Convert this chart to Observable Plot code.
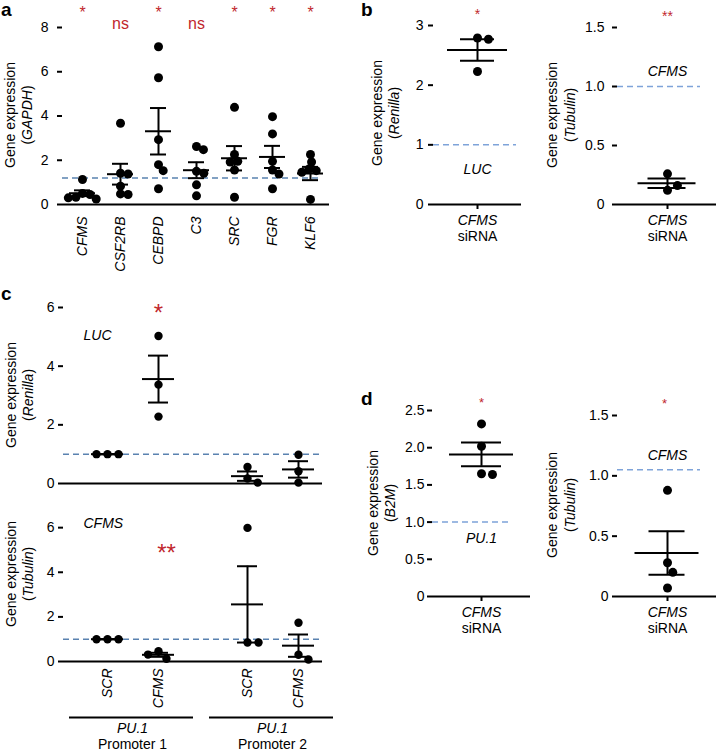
<!DOCTYPE html>
<html><head><meta charset="utf-8">
<script src="https://cdn.jsdelivr.net/npm/d3@7"></script>
<script src="https://cdn.jsdelivr.net/npm/@observablehq/plot@0.6"></script>
<style>
body{margin:0;background:#fff;}
#root{position:relative;width:716px;height:753px;overflow:hidden;font-family:'Liberation Sans',Arial,sans-serif;}
</style></head><body><div id="root"></div>
<script>
// ---------- data ----------
const genesA = ["CFMS","CSF2RB","CEBPD","C3","SRC","FGR","KLF6"];
const valuesA = [
  [1.13, 0.50, 0.45, 0.33, 0.30, 0.25],
  [3.67, 1.41, 1.38, 0.83, 0.48, 0.45],
  [7.13, 5.73, 2.93, 1.80, 1.53, 0.71],
  [2.62, 2.48, 1.50, 1.41, 0.89, 0.39],
  [4.39, 2.26, 1.95, 1.92, 1.56, 0.33],
  [3.97, 3.19, 1.95, 1.56, 1.38, 0.71],
  [2.26, 1.92, 1.60, 1.53, 1.46, 0.23]
];
const meanA = [0.51, 1.37, 3.31, 1.55, 2.09, 2.15, 1.40];
const semA  = [0.13, 0.47, 1.05, 0.36, 0.55, 0.50, 0.30];
const sigA  = ["*","ns","*","ns","*","*","*"];
const refA = 1.2;
const ticksA = [0,2,4,6,8];

const catB = ["CFMS"];
const lucB = [[2.79, 2.77, 2.23]];
const lucBMean = [2.59], lucBSem = [0.18];
const cfmsB = [[0.26, 0.12, 0.16]];
const cfmsBMean = [0.18], cfmsBSem = [0.04];

const promotersC = ["Promoter 1","Promoter 2"];
const condsC = ["SCR","CFMS"];
// order: P1-SCR, P1-CFMS, P2-SCR, P2-CFMS
const lucC = [[1,1,1],[5.03,3.37,2.28],[0.56,0.17,0.03],[0.98,0.42,0.03]];
const lucCMean = [1.0, 3.56, 0.25, 0.48];
const lucCSem  = [0, 0.80, 0.16, 0.28];
const cfmsC = [[1,1,1],[0.46,0.12,0.31],[5.99,0.85,0.85],[1.74,0.30,0.09]];
const cfmsCMean = [1.0, 0.30, 2.56, 0.71];
const cfmsCSem  = [0, 0.09, 1.71, 0.50];

const catD = ["CFMS"];
const pu1D = [[2.32, 2.02, 1.65, 1.64]];
const pu1DMean = [1.91], pu1DSem = [0.16];
const cfmsD = [[0.88, 0.28, 0.20, 0.07]];
const cfmsDMean = [0.36], cfmsDSem = [0.18];

// ---------- style ----------
const RED = "#c1272d";
const DASH_DARK = "#5a82b0";
const DASH_LIGHT = "#7ea3d9";
const FONT = "'Liberation Sans', Arial, sans-serif";
const STYLE = {background: "none", overflow: "visible", fontFamily: FONT, fontSize: "14px", color: "black"};
const fmt1 = d => d === 0 ? "0" : d.toFixed(1);
const root = document.getElementById("root");

// beeswarm-like horizontal spreading of points within each category
function swarm(options, coll = 5) {
  return Plot.initializer(options, function (data, facets, channels, scales) {
    const X = channels.x.value, Y = channels.y.value;
    const sx = scales.x, sy = scales.y;
    const n = X.length;
    const PX = new Float64Array(n), PY = new Float64Array(n);
    const d2 = 2 * coll;
    for (const facet of facets) {
      const groups = d3.group(facet, i => X[i]);
      for (const [xv, idx] of groups) {
        const cx = sx(xv);
        const placed = [];
        for (const i of idx) {
          const cy = sy(Y[i]);
          const cands = [0];
          for (const [px, py] of placed) {
            const dy = py - cy;
            if (Math.abs(dy) < d2) { const w = Math.sqrt(d2 * d2 - dy * dy); cands.push(px + w, px - w); }
          }
          cands.sort((a, b) => Math.abs(a) - Math.abs(b) || b - a);
          let off = cands.find(c => placed.every(([px, py]) => (px - c) ** 2 + (py - cy) ** 2 >= d2 * d2 - 1e-6));
          if (off === undefined) off = 0;
          placed.push([off, cy]);
          PX[i] = cx + off; PY[i] = cy;
        }
      }
    }
    return {data, facets, channels: {x: {value: PX}, y: {value: PY}}};
  });
}

function place(svg, left, top) {
  svg.style.position = "absolute";
  svg.style.left = left + "px";
  svg.style.top = top + "px";
  root.appendChild(svg);
  d3.select(svg).selectAll('[aria-label="x-axis tick label"] text').style("font-style", "italic");
  return svg;
}

function yLabel(svg, x1, x2, cy, unit) {
  const s = d3.select(svg);
  s.append("text").attr("transform", `translate(${x1},${cy}) rotate(-90)`)
    .attr("text-anchor", "middle").attr("dy", "0.35em").attr("font-size", 14).attr("fill", "black")
    .attr("font-family", FONT).text("Gene expression");
  const t = s.append("text").attr("transform", `translate(${x2},${cy}) rotate(-90)`)
    .attr("text-anchor", "middle").attr("dy", "0.35em").attr("font-size", 14).attr("fill", "black")
    .attr("font-family", FONT);
  t.append("tspan").text("(");
  t.append("tspan").attr("font-style", "italic").text(unit);
  t.append("tspan").text(")");
}

function hbar(st, y, w, single, half) {
  // horizontal bar of half-width w centred on each category
  return single
    ? Plot.ruleY(st, {y, insetLeft: half - w, insetRight: half - w, strokeWidth: 2})
    : Plot.ruleY(st, {x1: "cat", x2: "cat", y, insetLeft: -w, insetRight: -w, strokeWidth: 2});
}

function simplePanel(o) {
  const pts = o.cats.flatMap((c, i) => o.values[i].map(v => ({cat: c, value: v})));
  const st = o.cats.map((c, i) => ({cat: c, mean: o.means[i], sem: o.sems[i]}));
  const single = o.cats.length === 1;
  const half = (o.width - o.ml - o.mr) / 2;
  return Plot.plot({
    width: o.width, height: o.height,
    marginLeft: o.ml, marginRight: o.mr, marginTop: o.mt, marginBottom: o.mb,
    x: {type: "point", domain: o.cats, padding: 0.5},
    y: {domain: o.yDomain},
    style: STYLE,
    marks: [
      Plot.ruleY([o.ref], {stroke: o.dashColor, strokeWidth: 1.5, strokeDasharray: "6,4", insetRight: o.dashInset || 0}),
      Plot.ruleY([0], {strokeWidth: 2}),
      Plot.axisY({ticks: o.yTicks, tickFormat: o.yFormat, tickSize: 5, tickPadding: o.tickPad, strokeWidth: 2, line: true, label: null, fontSize: 14}),
      Plot.axisX({tickSize: o.xTickSize, tickPadding: o.xPad, tickRotate: o.rotate || 0, label: null, strokeWidth: 2, fontStyle: "italic", fontSize: 14}),
      Plot.dot(pts, swarm({x: "cat", y: "value", r: o.r, fill: "black"}, o.coll)),
      Plot.ruleX(st, {x: "cat", y1: d => d.mean - d.sem, y2: d => d.mean + d.sem, strokeWidth: 2}),
      hbar(st, d => d.mean + d.sem, o.cap, single, half),
      hbar(st, d => d.mean - d.sem, o.cap, single, half),
      hbar(st, "mean", o.meanW, single, half),
      ...(o.extra || [])
    ]
  });
}

function cPanel(o) {
  const pts = [], st = [];
  promotersC.forEach((p, pi) => condsC.forEach((c, ci) => {
    const k = pi * 2 + ci;
    o.values[k].forEach(v => pts.push({prom: p, cat: c, value: v}));
    st.push({prom: p, cat: c, mean: o.means[k], sem: o.sems[k]});
  }));
  const first = () => promotersC[0];
  return Plot.plot({
    width: 345, height: o.height, marginLeft: 62, marginRight: 23, marginTop: o.mt, marginBottom: o.mb,
    fx: {domain: promotersC, paddingInner: 0.156, paddingOuter: 0, axis: null, label: null},
    x: o.xAxis ? {type: "point", domain: condsC, padding: 0.644, align: 0.657}
               : {type: "point", domain: condsC, padding: 0.644, align: 0.657, axis: null},
    y: {domain: o.yDomain},
    style: STYLE,
    marks: [
      Plot.ruleY([o.ref], {fx: first, stroke: DASH_DARK, strokeWidth: 1.5, strokeDasharray: "6,4", insetRight: -141}),
      Plot.ruleY([0], {fx: first, strokeWidth: 2, insetRight: -141}),
      Plot.axisY({ticks: [0,2,4,6], tickFormat: d => String(d), tickSize: 5, tickPadding: 4, strokeWidth: 2, line: true, label: null, fontSize: 14}),
      ...(o.xAxis ? [Plot.axisX({tickRotate: -90, tickSize: 0, tickPadding: 7, label: null, fontStyle: "italic", fontSize: 14})] : []),
      Plot.dot(pts, swarm({fx: "prom", x: "cat", y: "value", r: 4.2, fill: "black"}, 5.5)),
      Plot.ruleX(st, {fx: "prom", x: "cat", y1: d => d.mean - d.sem, y2: d => d.mean + d.sem, strokeWidth: 2}),
      Plot.ruleY(st, {fx: "prom", x1: "cat", x2: "cat", y: d => d.mean + d.sem, insetLeft: -10, insetRight: -10, strokeWidth: 2}),
      Plot.ruleY(st, {fx: "prom", x1: "cat", x2: "cat", y: d => d.mean - d.sem, insetLeft: -10, insetRight: -10, strokeWidth: 2}),
      Plot.ruleY(st, {fx: "prom", x1: "cat", x2: "cat", y: "mean", insetLeft: -16, insetRight: -16, strokeWidth: 2}),
      ...(o.extra || [])
    ]
  });
}

// ---------- panel a ----------
const svgA = simplePanel({
  width: 345, height: 285, ml: 62, mr: 16, mt: 27, mb: 81,
  cats: genesA, values: valuesA, means: meanA, sems: semA,
  yDomain: [0, 8], yTicks: ticksA, yFormat: d => String(d), tickPad: 9,
  ref: refA, dashColor: DASH_DARK, dashInset: 9,
  xTickSize: 0, xPad: 12, rotate: -90, r: 4.5, coll: 3.8, cap: 8, meanW: 13,
  extra: [
    Plot.text(genesA, {x: d => d, text: (d, i) => sigA[i] === "*" ? "*" : "", frameAnchor: "top", dy: -21, fill: RED, fontSize: 16}),
    Plot.text(genesA, {x: d => d, text: (d, i) => sigA[i] === "*" ? "" : sigA[i], frameAnchor: "top", dy: -10, fill: RED, fontSize: 16})
  ]
});
place(svgA, 0, 0);
yLabel(svgA, 10, 27, 115, "GAPDH");

// ---------- panel b ----------
const svgB1 = simplePanel({
  width: 170, height: 250, ml: 73, mr: 9, mt: 25, mb: 46,
  cats: catB, values: lucB, means: lucBMean, sems: lucBSem,
  yDomain: [0, 3], yTicks: [0,1,2,3], yFormat: d => String(d), tickPad: 5,
  ref: 1, dashColor: DASH_LIGHT, dashInset: 5,
  xTickSize: 5, xPad: 6, r: 4.5, coll: 5.5, cap: 17, meanW: 30,
  extra: [
    Plot.text(["*"], {x: () => catB[0], text: d => d, frameAnchor: "top", dy: -16.5, fill: RED, fontSize: 14}),
    Plot.text(["LUC"], {x: () => catB[0], text: d => d, frameAnchor: "bottom", dy: -31, fontStyle: "italic", fontSize: 14}),
    Plot.text(["siRNA"], {x: () => catB[0], text: d => d, frameAnchor: "bottom", dy: 36, fontSize: 14})
  ]
});
place(svgB1, 360, 0);
yLabel(svgB1, 17, 34, 113, "Renilla");

const svgB2 = simplePanel({
  width: 186, height: 250, ml: 87, mr: 0, mt: 27, mb: 46,
  cats: catB, values: cfmsB, means: cfmsBMean, sems: cfmsBSem,
  yDomain: [0, 1.5], yTicks: [0,0.5,1,1.5], yFormat: fmt1, tickPad: 8,
  ref: 1, dashColor: DASH_LIGHT, dashInset: 16,
  xTickSize: 5, xPad: 6, r: 4.5, coll: 5.5, cap: 19, meanW: 29,
  extra: [
    Plot.text(["**"], {x: () => catB[0], text: d => d, frameAnchor: "top", dy: -16.5, fill: RED, fontSize: 14}),
    Plot.text(["CFMS"], {x: () => catB[0], text: d => d, frameAnchor: "top", dy: 39, fontStyle: "italic", fontSize: 14}),
    Plot.text(["siRNA"], {x: () => catB[0], text: d => d, frameAnchor: "bottom", dy: 36, fontSize: 14})
  ]
});
place(svgB2, 530, 0);
yLabel(svgB2, 22, 40, 115, "Tubulin");

// ---------- panel c ----------
const svgC1 = cPanel({
  height: 212, mt: 27, mb: 9, yDomain: [0, 6], ref: 1,
  values: lucC, means: lucCMean, sems: lucCSem, xAxis: false,
  extra: [
    Plot.text(["LUC"], {fx: () => promotersC[0], frameAnchor: "top-left", text: d => d, dx: 20, dy: 23, textAnchor: "start", fontStyle: "italic", fontSize: 14}),
    Plot.text(["*"], {fx: () => promotersC[0], x: () => condsC[1], frameAnchor: "top", text: d => d, dy: -4, fill: RED, fontSize: 24}),
    Plot.ruleX(promotersC, {fx: d => d, y1: () => 0, y2: () => 0, insetBottom: -6, dx: 11, strokeWidth: 2})
  ]
});
place(svgC1, 0, 280);
yLabel(svgC1, 11, 28, 115, "Renilla");

const svgC2 = cPanel({
  height: 269, mt: 3, mb: 92, yDomain: [0, 7.8], ref: 1,
  values: cfmsC, means: cfmsCMean, sems: cfmsCSem, xAxis: true,
  extra: [
    Plot.text(["CFMS"], {fx: () => promotersC[0], frameAnchor: "top-left", text: d => d, dx: 20, dy: 31, textAnchor: "start", fontStyle: "italic", fontSize: 14}),
    Plot.text(["**"], {fx: () => promotersC[0], x: () => condsC[1], frameAnchor: "top", text: d => d, dx: 8, dy: 56, fill: RED, fontSize: 24}),
    Plot.ruleY(promotersC, {fx: d => d, y: () => 0, dy: 56, insetLeft: 6, insetRight: -12, strokeWidth: 2}),
    Plot.text(promotersC, {fx: d => d, frameAnchor: "bottom", text: () => "PU.1", fontStyle: "italic", dx: 10, dy: 71, fontSize: 14}),
    Plot.text(promotersC, {fx: d => d, frameAnchor: "bottom", text: d => d, dx: 10, dy: 87, fontSize: 14})
  ]
});
place(svgC2, 0, 484);
yLabel(svgC2, 11, 28, 90, "Tubulin");

// ---------- panel d ----------
const svgD1 = simplePanel({
  width: 175, height: 260, ml: 72, mr: 5, mt: 25, mb: 49,
  cats: catD, values: pu1D, means: pu1DMean, sems: pu1DSem,
  yDomain: [0, 2.5], yTicks: [0,0.5,1,1.5,2,2.5], yFormat: fmt1, tickPad: 3,
  ref: 1, dashColor: DASH_LIGHT, dashInset: 18,
  xTickSize: 5, xPad: 6, r: 4.5, coll: 5.5, cap: 20, meanW: 32,
  extra: [
    Plot.text(["*"], {x: () => catD[0], text: d => d, frameAnchor: "top", dy: -13, fill: RED, fontSize: 13}),
    Plot.text(["PU.1"], {x: () => catD[0], text: d => d, frameAnchor: "bottom", dy: -54, fontStyle: "italic", fontSize: 14}),
    Plot.text(["siRNA"], {x: () => catD[0], text: d => d, frameAnchor: "bottom", dy: 36, fontSize: 14})
  ]
});
place(svgD1, 360, 385);
yLabel(svgD1, 13, 30, 118, "B2M");

const svgD2 = simplePanel({
  width: 186, height: 260, ml: 87, mr: 0, mt: 30, mb: 49,
  cats: catD, values: cfmsD, means: cfmsDMean, sems: cfmsDSem,
  yDomain: [0, 1.5], yTicks: [0,0.5,1,1.5], yFormat: fmt1, tickPad: 4,
  ref: 1.05, dashColor: DASH_LIGHT, dashInset: 16,
  xTickSize: 5, xPad: 6, r: 4.5, coll: 5.5, cap: 18, meanW: 32,
  extra: [
    Plot.text(["*"], {x: () => catD[0], text: d => d, frameAnchor: "top", dy: -17, dx: -3, fill: RED, fontSize: 13}),
    Plot.text(["CFMS"], {x: () => catD[0], text: d => d, frameAnchor: "top", dy: 35, fontStyle: "italic", fontSize: 14}),
    Plot.text(["siRNA"], {x: () => catD[0], text: d => d, frameAnchor: "bottom", dy: 36, fontSize: 14})
  ]
});
place(svgD2, 530, 385);
yLabel(svgD2, 22, 40, 120, "Tubulin");

// ---------- panel letters ----------
const ov = d3.select(root).append("svg").attr("width", 716).attr("height", 753)
  .style("position", "absolute").style("left", "0px").style("top", "0px").style("pointer-events", "none");
const letters = [["a", 1, 16], ["b", 361, 16], ["c", 1, 300], ["d", 361, 405]];
ov.selectAll("text").data(letters).join("text")
  .attr("x", d => d[1]).attr("y", d => d[2]).text(d => d[0])
  .attr("font-family", FONT).attr("font-weight", "bold").attr("font-size", 19).attr("fill", "black");
</script></body></html>
